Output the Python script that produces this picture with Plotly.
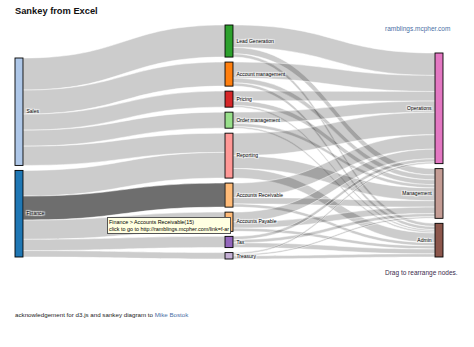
import plotly.graph_objects as go

# ---- data -------------------------------------------------------------
node_labels = [
    "Sales", "Finance",
    "Lead Generation", "Account management", "Pricing", "Order management",
    "Reporting", "Accounts Receivable", "Accounts Payable", "Tax", "Treasury",
    "Operations", "Management", "Admin",
]
node_column = [0, 0, 1, 1, 1, 1, 1, 1, 1, 1, 1, 2, 2, 2]
node_colors = [
    "#aec7e8", "#1f77b4",
    "#2ca02c", "#ff7f0e", "#d62728", "#98df8a", "#ff9896",
    "#ffbb78", "#ffbb78", "#9467bd", "#c5b0d5",
    "#e377c2", "#c49c94", "#8c564b",
]

link_source = [
    0, 0, 0, 0, 0,
    1, 1, 1, 1, 1,
    2, 2, 2, 3, 3, 3, 4, 4, 4, 5, 5, 5,
    6, 6, 6, 7, 7, 7, 8, 8, 8, 9, 9, 9, 10, 10, 10,
]
link_target = [
    2, 3, 4, 5, 6,
    6, 7, 8, 9, 10,
    11, 12, 13, 11, 12, 13, 11, 12, 13, 11, 12, 13,
    11, 12, 13, 11, 12, 13, 11, 12, 13, 11, 12, 13, 11, 12, 13,
]
link_value = [
    20, 15, 10, 10, 12,
    16, 15, 12, 7, 4,
    14, 4, 2, 10, 3, 2, 6, 3, 1, 7, 2, 1,
    14, 8, 6, 9, 4, 2, 6, 4, 2, 2, 2, 3, 1, 1, 2,
]
highlight_link = (1, 7)  # Finance > Accounts Receivable

# ---- geometry ---------------------------------------------------------
FIG_W, FIG_H = 474, 347
DOM_X = (15, 443)
DOM_Y = (25, 259)
THICK = 8
PAD = 5
column_top = [58, 25, 53]  # top edge of each column, px

W = DOM_X[1] - DOM_X[0]
H = DOM_Y[1] - DOM_Y[0]

n = len(node_labels)
inflow = [0] * n
outflow = [0] * n
for s, t, v in zip(link_source, link_target, link_value):
    outflow[s] += v
    inflow[t] += v
node_value = [max(a, b) for a, b in zip(inflow, outflow)]

ncol = max(node_column) + 1
cols = [[i for i in range(n) if node_column[i] == c] for c in range(ncol)]
ky = min((H - (len(c) - 1) * PAD) / sum(node_value[i] for i in c) for c in cols)

col_x = [THICK / 2, W / 2, W - THICK / 2]
node_x = [0.0] * n
node_y = [0.0] * n
for c, members in enumerate(cols):
    y = column_top[c] - DOM_Y[0]
    for i in members:
        h = node_value[i] * ky
        node_x[i] = col_x[c] / W
        node_y[i] = (y + h / 2) / H
        y += h + PAD


def darker(hex_color, k=0.49):
    r, g, b = (int(hex_color[j:j + 2], 16) for j in (1, 3, 5))
    return "rgb(%d,%d,%d)" % (r * k, g * k, b * k)


link_colors = [
    "rgba(0,0,0,0.57)" if (s, t) == highlight_link else "rgba(0,0,0,0.2)"
    for s, t in zip(link_source, link_target)
]

fig = go.Figure(go.Sankey(
    arrangement="perpendicular",
    domain=dict(x=[DOM_X[0] / FIG_W, DOM_X[1] / FIG_W],
                y=[1 - DOM_Y[1] / FIG_H, 1 - DOM_Y[0] / FIG_H]),
    node=dict(
        label=node_labels,
        color=node_colors,
        line=dict(color=[darker(c) for c in node_colors], width=0.9),
        thickness=THICK,
        pad=PAD,
        x=node_x,
        y=node_y,
        hoverinfo="none",
    ),
    link=dict(
        source=link_source,
        target=link_target,
        value=link_value,
        color=link_colors,
        line=dict(color="white", width=0.5),
        hoverinfo="none",
    ),
    textfont=dict(family="Liberation Sans, Arial", size=5, color="#000"),
))

font = "Liberation Sans, Arial"
annotations = [
    dict(text="<b>Sankey from Excel</b>", x=13, y=11, size=9.3, color="#111"),
    dict(text="ramblings.mcpher.com", x=383, y=29, size=6.5, color="#4a6fa5"),
    dict(text="Drag to rearrange nodes.", x=383, y=273, size=6.5, color="#3b2a4d"),
    dict(text="acknowledgement for d3.js and sankey diagram to "
              "<span style='color:#4a6fa5'>Mike Bostok</span>",
         x=13, y=314, size=6.2, color="#222"),
]
fig_annotations = [
    dict(text=a["text"], x=a["x"] / FIG_W, y=1 - a["y"] / FIG_H,
         xref="paper", yref="paper", xanchor="left", yanchor="middle",
         showarrow=False, font=dict(family=font, size=a["size"], color=a["color"]))
    for a in annotations
]
# tooltip for the highlighted link
tip_value = link_value[list(zip(link_source, link_target)).index(highlight_link)]
fig_annotations.append(dict(
    text="%s > %s(%d)<br>click to go to http://ramblings.mcpher.com/link=f-ar"
         % (node_labels[highlight_link[0]], node_labels[highlight_link[1]], tip_value),
    x=107 / FIG_W, y=1 - 217 / FIG_H, xref="paper", yref="paper",
    xanchor="left", yanchor="top", align="left", showarrow=False,
    bgcolor="#ffffe1", bordercolor="#555", borderwidth=1, borderpad=1,
    font=dict(family=font, size=5.4, color="#000"),
))

fig.update_layout(
    width=FIG_W, height=FIG_H,
    margin=dict(l=0, r=0, t=0, b=0),
    paper_bgcolor="white",
    annotations=fig_annotations,
)
fig.write_html("out.html")
